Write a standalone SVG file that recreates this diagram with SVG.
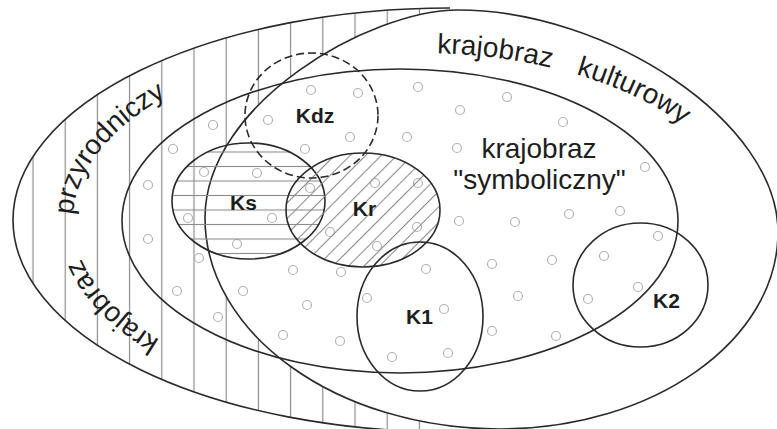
<svg xmlns="http://www.w3.org/2000/svg" xmlns:xlink="http://www.w3.org/1999/xlink" width="777" height="429" viewBox="0 0 777 429">
<style>
.ln{fill:none;stroke:#2a2a2a;stroke-width:1.6}
.dot{fill:none;stroke:#b3b3b3;stroke-width:1.2}
.lbl{font-family:"Liberation Sans",Arial,sans-serif;font-weight:bold;font-size:21px;fill:#1e1e1e;text-anchor:middle}
.big{font-family:"Liberation Sans",Arial,sans-serif;font-size:28px;fill:#1e1e1e}
</style>
<defs>
<pattern id="hv" patternUnits="userSpaceOnUse" x="16.9" y="0" width="32.2" height="20">
<line x1="16.1" y1="-1" x2="16.1" y2="21" stroke="#8c8c8c" stroke-width="1.2"/>
</pattern>
<pattern id="hh" patternUnits="userSpaceOnUse" x="0" y="144.75" width="20" height="14.5">
<line x1="-1" y1="7.25" x2="21" y2="7.25" stroke="#8c8c8c" stroke-width="1.1"/>
</pattern>
<pattern id="hd" patternUnits="userSpaceOnUse" x="0" y="0" width="11" height="11" patternTransform="rotate(45)">
<line x1="5.5" y1="-1" x2="5.5" y2="12" stroke="#8c8c8c" stroke-width="1.1"/>
</pattern>
<path id="tp1" d="M 160 339.9 A 374 187 0 0 1 73 220"/>
<path id="tp2" d="M 73.13 215 A 374 187 0 0 1 447 33"/>
<path id="tp3" d="M 437 53.2 A 320 168 0 0 1 740 221"/>
</defs>
<rect width="777" height="429" fill="#ffffff"/>
<g id="przyrodniczy">
<path d="M 450 8 A 437 212 0 0 0 450 432 Z" style="fill:url(#hv)"/>
<path class="ln" d="M 450 8 A 437 212 0 0 0 450 432"/>
</g>
<g id="kulturowy">
<path class="ln" style="fill:#ffffff" d="M 205 218 C 205 103 370 10 458 10 C 608 10 778 122 778 232 C 778 341 653 429 500 429 C 337 429 205 334 205 218 Z"/>
</g>
<g id="symboliczny">
<ellipse class="ln" cx="400" cy="221" rx="278" ry="152"/>
</g>
<g id="dots">
<circle class="dot" cx="311" cy="90" r="4.5"/>
<circle class="dot" cx="358" cy="93" r="4.5"/>
<circle class="dot" cx="418" cy="87" r="4.5"/>
<circle class="dot" cx="507" cy="97" r="4.5"/>
<circle class="dot" cx="268" cy="120" r="4.5"/>
<circle class="dot" cx="213" cy="125" r="4.5"/>
<circle class="dot" cx="460" cy="110" r="4.5"/>
<circle class="dot" cx="350" cy="137" r="4.5"/>
<circle class="dot" cx="407" cy="137" r="4.5"/>
<circle class="dot" cx="563" cy="122" r="4.5"/>
<circle class="dot" cx="173" cy="149" r="4.5"/>
<circle class="dot" cx="305" cy="149" r="4.5"/>
<circle class="dot" cx="457" cy="148" r="4.5"/>
<circle class="dot" cx="645" cy="167" r="4.5"/>
<circle class="dot" cx="204" cy="172" r="4.5"/>
<circle class="dot" cx="257" cy="173" r="4.5"/>
<circle class="dot" cx="148" cy="185" r="4.5"/>
<circle class="dot" cx="310" cy="188" r="4.5"/>
<circle class="dot" cx="375" cy="183" r="4.5"/>
<circle class="dot" cx="418" cy="183" r="4.5"/>
<circle class="dot" cx="188" cy="218" r="4.5"/>
<circle class="dot" cx="272" cy="218" r="4.5"/>
<circle class="dot" cx="330" cy="232" r="4.5"/>
<circle class="dot" cx="417" cy="227" r="4.5"/>
<circle class="dot" cx="459" cy="221" r="4.5"/>
<circle class="dot" cx="515" cy="222" r="4.5"/>
<circle class="dot" cx="569" cy="214" r="4.5"/>
<circle class="dot" cx="620" cy="211" r="4.5"/>
<circle class="dot" cx="148" cy="239" r="4.5"/>
<circle class="dot" cx="237" cy="244" r="4.5"/>
<circle class="dot" cx="377" cy="246" r="4.5"/>
<circle class="dot" cx="199" cy="258" r="4.5"/>
<circle class="dot" cx="293" cy="270" r="4.5"/>
<circle class="dot" cx="341" cy="272" r="4.5"/>
<circle class="dot" cx="426" cy="269" r="4.5"/>
<circle class="dot" cx="492" cy="264" r="4.5"/>
<circle class="dot" cx="552" cy="260" r="4.5"/>
<circle class="dot" cx="604" cy="256" r="4.5"/>
<circle class="dot" cx="658" cy="236" r="4.5"/>
<circle class="dot" cx="177" cy="291" r="4.5"/>
<circle class="dot" cx="243" cy="291" r="4.5"/>
<circle class="dot" cx="307" cy="305" r="4.5"/>
<circle class="dot" cx="367" cy="298" r="4.5"/>
<circle class="dot" cx="444" cy="309" r="4.5"/>
<circle class="dot" cx="518" cy="296" r="4.5"/>
<circle class="dot" cx="588" cy="299" r="4.5"/>
<circle class="dot" cx="638" cy="287" r="4.5"/>
<circle class="dot" cx="218" cy="317" r="4.5"/>
<circle class="dot" cx="283" cy="335" r="4.5"/>
<circle class="dot" cx="340" cy="341" r="4.5"/>
<circle class="dot" cx="392" cy="357" r="4.5"/>
<circle class="dot" cx="448" cy="353" r="4.5"/>
<circle class="dot" cx="492" cy="331" r="4.5"/>
<circle class="dot" cx="556" cy="336" r="4.5"/>
</g>
<g id="Ks">
<ellipse cx="248.5" cy="201" rx="76.5" ry="58" class="ln" style="fill:url(#hh)"/>
<text class="lbl" x="243.5" y="210">Ks</text>
</g>
<g id="Kr">
<ellipse cx="363" cy="210" rx="77" ry="57" class="ln" style="fill:url(#hd)"/>
<text class="lbl" x="364.5" y="216">Kr</text>
</g>
<g id="Kdz">
<ellipse cx="311.5" cy="115.5" rx="66.5" ry="62.5" class="ln" stroke-dasharray="8 4"/>
<text class="lbl" x="315" y="123">Kdz</text>
</g>
<g id="K1">
<ellipse cx="420" cy="316.5" rx="63" ry="74.5" class="ln"/>
<text class="lbl" x="419.5" y="324">K1</text>
</g>
<g id="K2">
<ellipse cx="640.5" cy="285" rx="67.5" ry="62" class="ln"/>
<text class="lbl" x="666.5" y="308">K2</text>
</g>
<g id="labels">
<text class="big"><textPath xlink:href="#tp1" href="#tp1">krajobraz</textPath></text>
<text class="big"><textPath xlink:href="#tp2" href="#tp2">przyrodniczy</textPath></text>
<text class="big" word-spacing="18"><textPath xlink:href="#tp3" href="#tp3">krajobraz kulturowy</textPath></text>
<text class="big" x="539" y="158" text-anchor="middle">krajobraz</text>
<text class="big" x="539.5" y="189" text-anchor="middle">"symboliczny"</text>
</g>
<g id="connectors"></g>
</svg>
